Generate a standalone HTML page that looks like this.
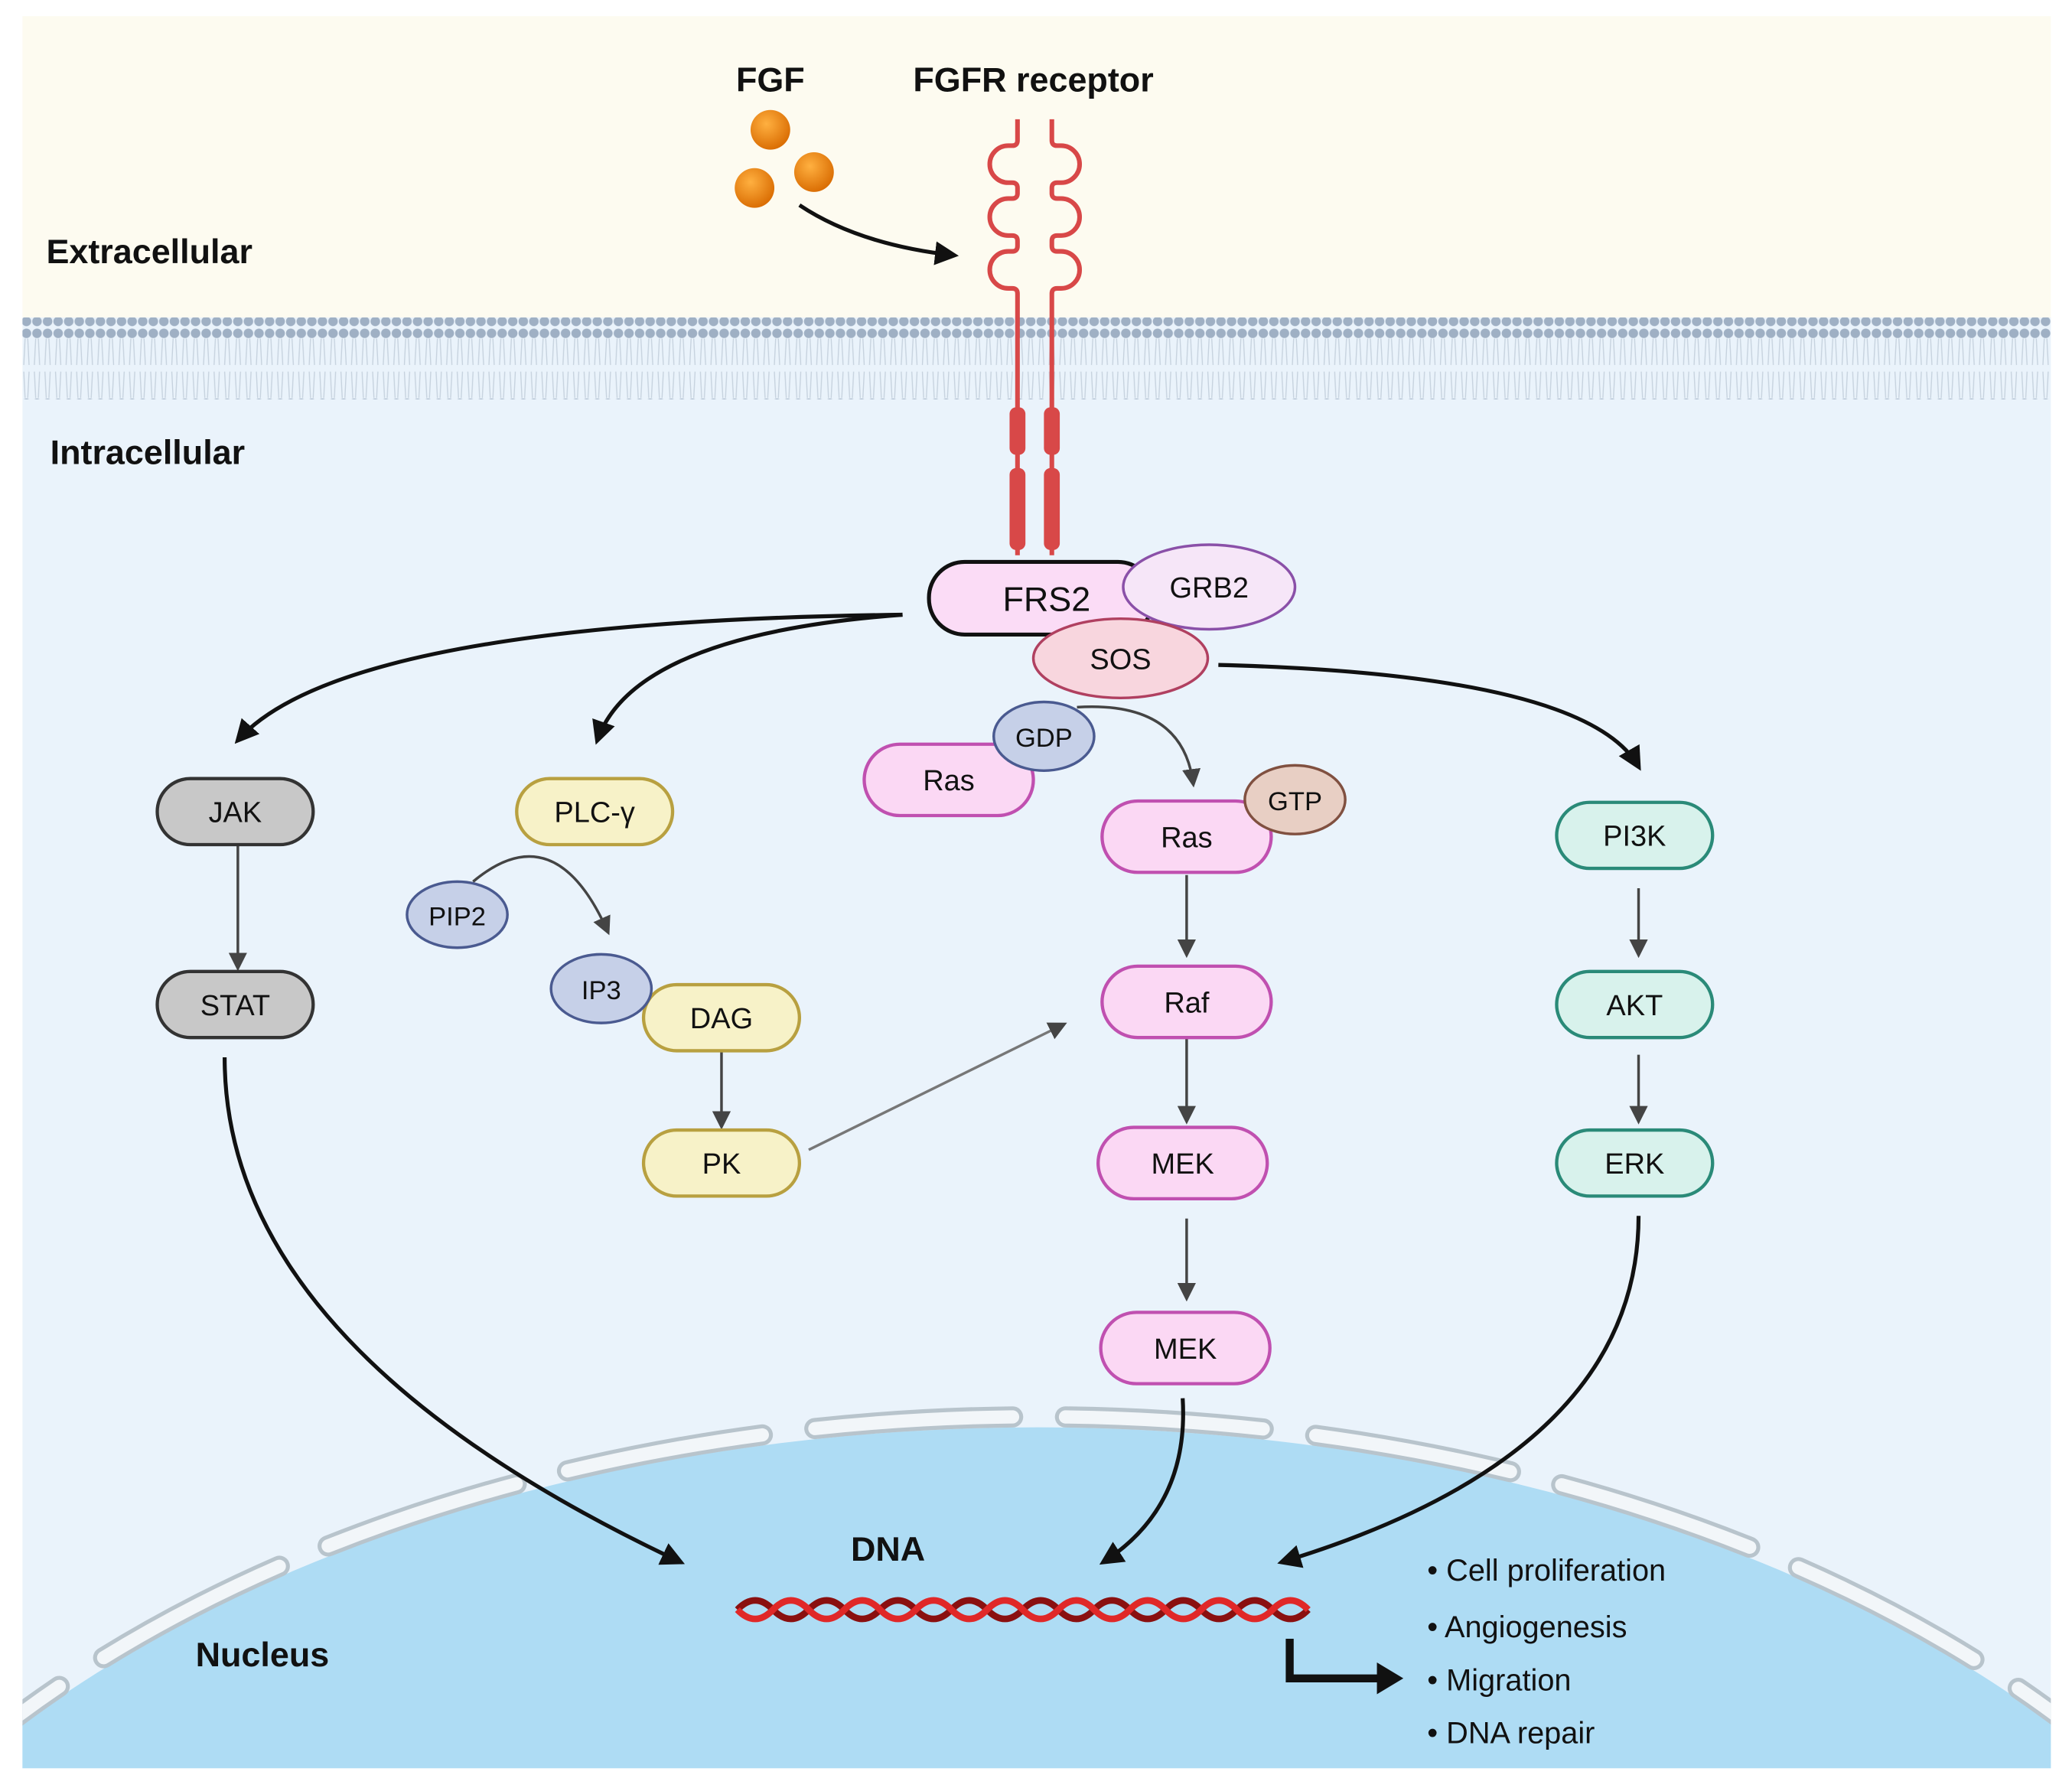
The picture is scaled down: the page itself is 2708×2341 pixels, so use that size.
<!DOCTYPE html>
<html><head><meta charset="utf-8"><style>
html,body{margin:0;padding:0;background:#fff;width:2708px;height:2341px;overflow:hidden}
svg{display:block}
text{font-family:"Liberation Sans",sans-serif;fill:#111}
</style></head><body>
<svg width="2708" height="2341" viewBox="0 0 1568 1355" xmlns="http://www.w3.org/2000/svg">
<defs>
<radialGradient id="ball" cx="0.4" cy="0.35" r="0.7"><stop offset="0" stop-color="#ffb040"/><stop offset="1" stop-color="#d86a00"/></radialGradient>
<marker id="ah" viewBox="0 0 10 10" refX="8" refY="5" markerWidth="6" markerHeight="6" orient="auto"><path d="M0,0 L10,5 L0,10 z" fill="#111"/></marker>
<marker id="ahg" viewBox="0 0 10 10" refX="8" refY="5" markerWidth="7" markerHeight="7" orient="auto"><path d="M0,0 L10,5 L0,10 z" fill="#444"/></marker>
<clipPath id="cell"><rect x="17" y="12" width="1535" height="1326"/></clipPath>
<pattern id="lip" width="8" height="62" patternUnits="userSpaceOnUse">
<circle cx="4" cy="4" r="3.6" fill="#9fb0c4"/><circle cx="4" cy="57" r="3.6" fill="#9fb0c4"/>
<path d="M3,8 L2,28 M5,8 L6,28 M3,53 L2,33 M5,53 L6,33" stroke="#c6d2de" stroke-width="0.8"/>
</pattern>
</defs>
<rect x="17" y="12" width="1535" height="232" fill="#fdfbf0"/>
<rect x="17" y="240" width="1535" height="1098" fill="#eaf3fb"/>
<rect x="17" y="240" width="1535" height="62" fill="url(#lip)"/>
<g clip-path="url(#cell)">
<ellipse cx="785" cy="1720" rx="1010" ry="640" fill="#aedcf4"/>
<ellipse cx="785" cy="1720" rx="1016" ry="648" fill="none" stroke="#b8c4cc" stroke-width="16" stroke-dasharray="150 40" stroke-linecap="round"/>
<ellipse cx="785" cy="1720" rx="1016" ry="648" fill="none" stroke="#f2f6f9" stroke-width="10" stroke-dasharray="150 40" stroke-linecap="round"/>
</g>
<text x="35" y="199" font-size="26" font-weight="bold">Extracellular</text>
<text x="38" y="351" font-size="26" font-weight="bold">Intracellular</text>
<text x="148" y="1261" font-size="26" font-weight="bold">Nucleus</text>
<text x="583" y="69" font-size="26" font-weight="bold" text-anchor="middle">FGF</text>
<text x="782" y="69" font-size="26" font-weight="bold" text-anchor="middle">FGFR receptor</text>
<circle cx="583" cy="98" r="15" fill="url(#ball)"/>
<circle cx="616" cy="130" r="15" fill="url(#ball)"/>
<circle cx="571" cy="142" r="15" fill="url(#ball)"/>
<path d="M605,155 Q650,185 722,193" fill="none" stroke="#111" stroke-width="3" marker-end="url(#ah)"/>
<g fill="none" stroke="#d84848" stroke-width="3.5" stroke-linejoin="round">
<path d="M770,90 V106 q0,4 -4,4 h-3 a14,14 0 0 0 0,28 h3 q4,0 4,4 v4 q0,4 -4,4 h-3 a14,14 0 0 0 0,28 h3 q4,0 4,4 v4 q0,4 -4,4 h-3 a14,14 0 0 0 0,28 h3 q4,0 4,4 V420"/>
<path d="M796,90 V106 q0,4 4,4 h3 a14,14 0 0 1 0,28 h-3 q-4,0 -4,4 v4 q0,4 4,4 h3 a14,14 0 0 1 0,28 h-3 q-4,0 -4,4 v4 q0,4 4,4 h3 a14,14 0 0 1 0,28 h-3 q-4,0 -4,4 V420"/>
</g>
<g fill="#d84848">
<rect x="764" y="308" width="12" height="36" rx="5"/><rect x="790" y="308" width="12" height="36" rx="5"/>
<rect x="764" y="354" width="12" height="62" rx="5"/><rect x="790" y="354" width="12" height="62" rx="5"/>
</g>
<g fill="none" stroke="#111" stroke-width="3" marker-end="url(#ah)">
<path d="M683,465 Q260,470 180,560"/>
<path d="M683,465 Q480,480 452,560"/>
<path d="M922,503 Q1200,510 1240,580"/>
<path d="M170,800 Q170,1020 515,1182"/>
<path d="M895,1058 Q900,1140 835,1182"/>
<path d="M1240,920 Q1240,1100 970,1182"/>
</g>
<g fill="none" stroke="#444" stroke-width="2" marker-end="url(#ahg)">
<path d="M180,640 L180,732"/>
<path d="M546,796 L546,852"/>
<path d="M898,662 L898,722"/>
<path d="M898,786 L898,848"/>
<path d="M898,922 L898,982"/>
<path d="M1240,672 L1240,722"/>
<path d="M1240,798 L1240,848"/>
<path d="M358,667 Q420,615 460,705"/>
<path d="M815,535 Q895,530 903,593"/>
<path d="M612,870 L805,775" stroke="#777"/>
</g>
<g font-size="22" text-anchor="middle">
<rect x="119" y="589" width="118" height="50" rx="25" fill="#c8c8c8" stroke="#333" stroke-width="2.5"/><text x="178" y="622">JAK</text>
<rect x="119" y="735" width="118" height="50" rx="25" fill="#c8c8c8" stroke="#333" stroke-width="2.5"/><text x="178" y="768">STAT</text>
<rect x="391" y="589" width="118" height="50" rx="25" fill="#f7f2c8" stroke="#b8a040" stroke-width="2.5"/><text x="450" y="622">PLC-γ</text>
<ellipse cx="346" cy="692" rx="38" ry="25" fill="#c6d0e8" stroke="#4a5a90" stroke-width="2"/><text x="346" y="700" font-size="20">PIP2</text>
<rect x="487" y="745" width="118" height="50" rx="25" fill="#f7f2c8" stroke="#b8a040" stroke-width="2.5"/><text x="546" y="778">DAG</text>
<ellipse cx="455" cy="748" rx="38" ry="26" fill="#c6d0e8" stroke="#4a5a90" stroke-width="2"/><text x="455" y="756" font-size="20">IP3</text>
<rect x="487" y="855" width="118" height="50" rx="25" fill="#f7f2c8" stroke="#b8a040" stroke-width="2.5"/><text x="546" y="888">PK</text>
<rect x="654" y="563" width="128" height="54" rx="27" fill="#fbd8f4" stroke="#c050b0" stroke-width="2.5"/><text x="718" y="598">Ras</text>
<ellipse cx="790" cy="557" rx="38" ry="26" fill="#c6d0e8" stroke="#4a5a90" stroke-width="2"/><text x="790" y="565" font-size="20">GDP</text>
<rect x="834" y="606" width="128" height="54" rx="27" fill="#fbd8f4" stroke="#c050b0" stroke-width="2.5"/><text x="898" y="641">Ras</text>
<ellipse cx="980" cy="605" rx="38" ry="26" fill="#e8cfc4" stroke="#805040" stroke-width="2"/><text x="980" y="613" font-size="20">GTP</text>
<rect x="834" y="731" width="128" height="54" rx="27" fill="#fbd8f4" stroke="#c050b0" stroke-width="2.5"/><text x="898" y="766">Raf</text>
<rect x="831" y="853" width="128" height="54" rx="27" fill="#fbd8f4" stroke="#c050b0" stroke-width="2.5"/><text x="895" y="888">MEK</text>
<rect x="833" y="993" width="128" height="54" rx="27" fill="#fbd8f4" stroke="#c050b0" stroke-width="2.5"/><text x="897" y="1028">MEK</text>
<rect x="1178" y="607" width="118" height="50" rx="25" fill="#d8f2ec" stroke="#2a8a78" stroke-width="2.5"/><text x="1237" y="640">PI3K</text>
<rect x="1178" y="735" width="118" height="50" rx="25" fill="#d8f2ec" stroke="#2a8a78" stroke-width="2.5"/><text x="1237" y="768">AKT</text>
<rect x="1178" y="855" width="118" height="50" rx="25" fill="#d8f2ec" stroke="#2a8a78" stroke-width="2.5"/><text x="1237" y="888">ERK</text>
<rect x="703" y="425" width="170" height="55" rx="27" fill="#fbdcf6" stroke="#111" stroke-width="3"/><text x="792" y="462" font-size="26">FRS2</text>
<ellipse cx="915" cy="444" rx="65" ry="32" fill="#f6e6f8" stroke="#8a50a8" stroke-width="2"/><text x="915" y="452">GRB2</text>
<ellipse cx="848" cy="498" rx="66" ry="30" fill="#f8d6de" stroke="#b04060" stroke-width="2"/><text x="848" y="506">SOS</text>
</g>
<text x="672" y="1181" font-size="26" font-weight="bold" text-anchor="middle">DNA</text>
<g fill="none" stroke-width="5">
<path d="M558,1218 q13.5,-14 27,0 t27,0 t27,0 t27,0 t27,0 t27,0 t27,0 t27,0 t27,0 t27,0 t27,0 t27,0 t27,0 t27,0 t27,0 t27,0" stroke="#8a1010"/>
<path d="M558,1218 q13.5,14 27,0 t27,0 t27,0 t27,0 t27,0 t27,0 t27,0 t27,0 t27,0 t27,0 t27,0 t27,0 t27,0 t27,0 t27,0 t27,0" stroke="#e02828"/>
</g>
<path d="M976,1240 L976,1270 L1045,1270" fill="none" stroke="#111" stroke-width="6"/>
<path d="M1042,1258 L1062,1270 L1042,1282 z" fill="#111"/>
<g font-size="23">
<text x="1080" y="1196">• Cell proliferation</text>
<text x="1080" y="1239">• Angiogenesis</text>
<text x="1080" y="1279">• Migration</text>
<text x="1080" y="1319">• DNA repair</text>
</g>
</svg>
</body></html>
